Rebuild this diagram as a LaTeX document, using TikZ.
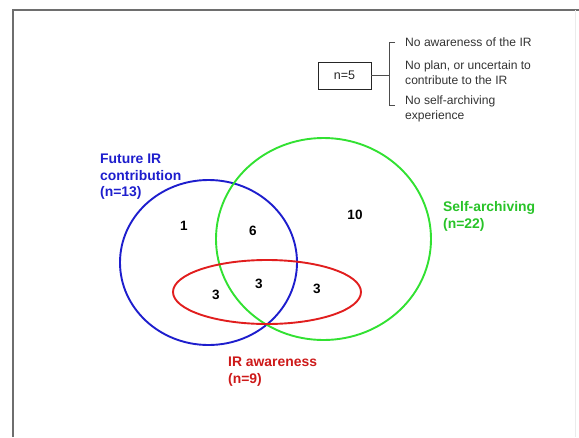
\documentclass[tikz,border=0pt]{standalone}
\usepackage{fontspec}
\setmainfont{Liberation Sans}

\definecolor{futblue}{RGB}{30,30,205}
\definecolor{selfgreen}{RGB}{50,225,50}
\definecolor{selfgreentxt}{RGB}{40,195,40}
\definecolor{awared}{RGB}{225,30,30}
\definecolor{awaredtxt}{RGB}{205,25,25}
\definecolor{frame}{RGB}{110,110,110}

\tikzset{
  setline/.style={line width=1.9pt},
  setlabel/.style={anchor=west, align=left, inner sep=0pt,
    font=\fontsize{13.9}{16.5}\selectfont\bfseries},
  count/.style={inner sep=0pt, font=\fontsize{13.5}{15}\selectfont\bfseries},
  note/.style={anchor=west, align=left, inner sep=0pt, text=black!80,
    font=\fontsize{12.1}{15}\selectfont}
}

\begin{document}
\begin{tikzpicture}[x=1pt,y=-1pt]
\useasboundingbox (0,0) rectangle (579,437);

% frame
\draw[frame, line width=1.2pt] (13,437) -- (13,10) -- (579,10);
\draw[black!8] (575,10) -- (575,437);

\draw[setline, futblue] (208.5,262.5) ellipse (88.5pt and 82.5pt); % Future IR
\draw[setline, selfgreen] (323.5,239) ellipse (107.5pt and 101pt); % Self-archiving
\draw[setline, awared] (267,292) ellipse (94pt and 32pt); % IR awareness

% labels
\node[setlabel, text=futblue] (futlabel) at (100,177) {Future IR\\contribution\\(n=13)};
\node[setlabel, text=selfgreentxt] (selflabel) at (443,216.5) {Self-archiving\\(n=22)};
\node[setlabel, text=awaredtxt] (awarelabel) at (228,371.5) {IR awareness\\(n=9)};

% counts
\node[count] (onlyfut) at (184,226) {1};
\node[count] (futself) at (253,231) {6};
\node[count] (onlyself) at (355,215) {10};
\node[count] (futaware) at (216,295) {3};
\node[count] (allthree) at (259,284) {3};
\node[count] (selfaware) at (317,289) {3};

% none of the three
\node[draw, black!85, text=black!85, minimum width=53pt, minimum height=27pt,
  font=\fontsize{12.5}{14}\selectfont] (nonebox) at (344.5,75.5) {n=5};
\coordinate (brtop) at (389,42.5);
\coordinate (brbot) at (389,105.5);
\draw[black!70] (nonebox.east) -- (nonebox.east -| brtop);
\draw[black!70] ([xshift=6pt]brtop) -- (brtop) -- (brbot) -- ([xshift=6pt]brbot);

\node[note] (noaware) at (405,42.5) {No awareness of the IR};
\node[note] (noplan) at (405,72.5) {No plan, or uncertain to\\contribute to the IR};
\node[note] (noself) at (405,109) {No self-archiving\\experience};

\end{tikzpicture}
\end{document}
